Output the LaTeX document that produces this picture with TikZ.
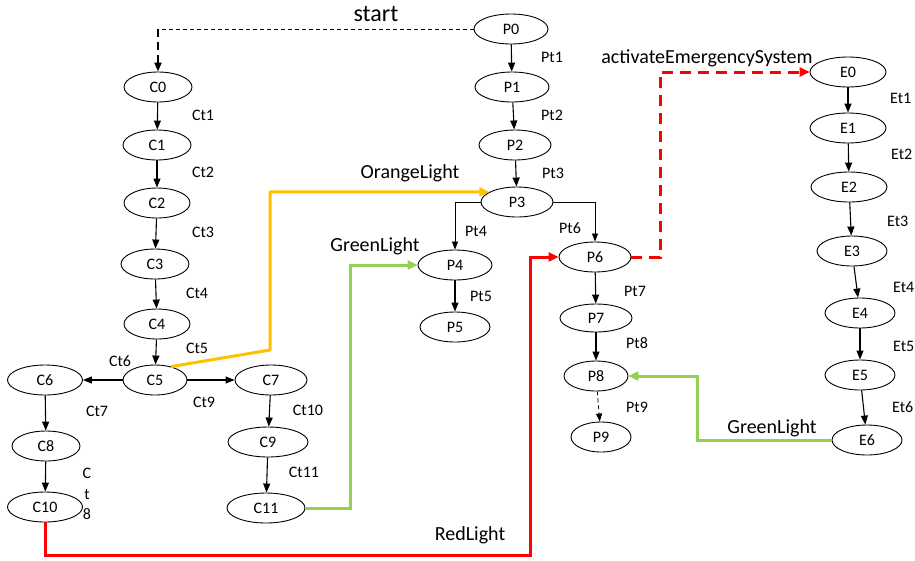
\documentclass[tikz,border=0pt]{standalone}
\usepackage{fontspec}
\setmainfont{Carlito}
\usetikzlibrary{shapes.geometric,arrows.meta}
\definecolor{gold}{HTML}{FFC000}
\definecolor{lime}{HTML}{92D050}
\definecolor{alarm}{HTML}{FF0000}
\begin{document}
\begin{tikzpicture}[x=1pt,y=-1pt,
  state/.style={ellipse,draw,line width=0.9pt,inner sep=0pt,minimum height=30pt,font=\fontsize{16}{18}\selectfont},
  tlabel/.style={font=\fontsize{16}{18}\selectfont,inner sep=0pt},
  blabel/.style={font=\fontsize{20}{22}\selectfont,inner sep=0pt},
  flow/.style={line width=1.1pt,-{Triangle[length=9pt,width=7pt]}},
  thinflow/.style={line width=0.8pt,-{Triangle[length=8pt,width=6pt]}},
  signal/.style={line width=3pt,-{Triangle[length=10pt,width=9pt]}}]
\useasboundingbox (0,0) rectangle (915,560);

% process P
\node[state,minimum width=74pt] (P0) at (511,29) {P0};
\node[state,minimum width=74pt] (P1) at (512,87) {P1};
\node[state,minimum width=72pt] (P2) at (515,145) {P2};
\node[state,minimum width=72pt] (P3) at (517,202) {P3};
\node[state,minimum width=74pt] (P4) at (455,265) {P4};
\node[state,minimum width=70pt] (P5) at (455,327) {P5};
\node[state,minimum width=72pt] (P6) at (595,257) {P6};
\node[state,minimum width=72pt,minimum height=28pt] (P7) at (596,318) {P7};
\node[state,minimum width=64pt] (P8) at (596,376) {P8};
\node[state,minimum width=60pt] (P9) at (601,437) {P9};

% controller C
\node[state,minimum width=68pt] (C0) at (158,87) {C0};
\node[state,minimum width=68pt] (C1) at (157,145) {C1};
\node[state,minimum width=66pt] (C2) at (157,203) {C2};
\node[state,minimum width=68pt] (C3) at (155,264) {C3};
\node[state,minimum width=66pt] (C4) at (157,324) {C4};
\node[state,minimum width=64pt] (C5) at (155,380) {C5};
\node[state,minimum width=75pt] (C6) at (45,380) {C6};
\node[state,minimum width=72pt] (C7) at (271,380) {C7};
\node[state,minimum width=68pt] (C8) at (46,446) {C8};
\node[state,minimum width=80pt] (C9) at (268,442) {C9};
\node[state,minimum width=75pt] (C10) at (45,507) {C10};
\node[state,minimum width=78pt] (C11) at (266,508) {C11};

% emergency E
\node[state,minimum width=76pt] (E0) at (848,72) {E0};
\node[state,minimum width=76pt] (E1) at (848,128) {E1};
\node[state,minimum width=76pt] (E2) at (849,187) {E2};
\node[state,minimum width=70pt] (E3) at (852,251) {E3};
\node[state,minimum width=70pt] (E4) at (860,313) {E4};
\node[state,minimum width=70pt] (E5) at (860,375) {E5};
\node[state,minimum width=70pt] (E6) at (867,440) {E6};

% transitions of P
\draw[flow] (P0) -- (P1);
\draw[flow] (P1) -- (P2);
\draw[flow] (P2) -- (P3);
\draw[thinflow] (P3.west) -| (P4.north);
\draw[thinflow] (P3.east) -| (P6.north);
\draw[flow] (P4) -- (P5);
\draw[flow] (P6) -- (P7);
\draw[flow] (P7) -- (P8);
\draw[thinflow,dash pattern=on 4pt off 3pt] (P8) -- (P9);

% transitions of C
\draw[flow] (C0) -- (C1);
\draw[flow] (C1) -- (C2);
\draw[flow] (C2) -- (C3);
\draw[flow] (C3) -- (C4);
\draw[flow] (C4) -- (C5);
\draw[flow] (C5) -- (C6);
\draw[flow] (C5) -- (C7);
\draw[flow] (C6) -- (C8);
\draw[flow] (C8) -- (C10);
\draw[flow] (C7) -- (C9);
\draw[flow] (C9) -- (C11);

% transitions of E
\draw[flow] (E0) -- (E1);
\draw[flow] (E1) -- (E2);
\draw[flow] (E2) -- (E3);
\draw[flow] (E3) -- (E4);
\draw[flow] (E4) -- (E5);
\draw[flow] (E5) -- (E6);

% start message
\coordinate (s1) at (C0.north |- P0.west);
\draw[line width=0.8pt,dash pattern=on 4pt off 3pt] (P0.west) -- (s1);
\draw[line width=2pt,dash pattern=on 8pt off 5pt,-{Triangle[length=9pt,width=7pt]}] (s1) -- (C0.north);

% signals
\coordinate (o1) at (270,350);
\draw[signal,gold,line join=round] (C5.40) -- (o1) |- (P3.160);
\coordinate (g1) at (350,508);
\draw[signal,lime] (C11.east) -- (g1) |- (P4.west);
\coordinate (r1) at (45,555);
\coordinate (r2) at (530,555);
\draw[signal,alarm] (C10.south) -- (r1) -- (r2) |- (P6.west);
\coordinate (d1) at (660,257);
\draw[signal,alarm,dash pattern=on 11pt off 7pt] (P6.east) -- (d1) |- (E0.west);
\coordinate (g2) at (697,440);
\draw[signal,lime] (E6.west) -- (g2) |- (P8.east);

% transition labels
\node[tlabel] (pt1) at (552,57) {Pt1};
\node[tlabel] (pt2) at (552,115) {Pt2};
\node[tlabel] (pt3) at (553,173) {Pt3};
\node[tlabel] (pt4) at (476,231) {Pt4};
\node[tlabel] (pt5) at (481,296) {Pt5};
\node[tlabel] (pt6) at (570,228) {Pt6};
\node[tlabel] (pt7) at (635,291) {Pt7};
\node[tlabel] (pt8) at (637,343) {Pt8};
\node[tlabel] (pt9) at (637,407) {Pt9};
\node[tlabel] (ct1) at (203,115) {Ct1};
\node[tlabel] (ct2) at (203,172) {Ct2};
\node[tlabel] (ct3) at (203,232) {Ct3};
\node[tlabel] (ct4) at (197,293) {Ct4};
\node[tlabel] (ct5) at (197,348) {Ct5};
\node[tlabel] (ct6) at (120,361) {Ct6};
\node[tlabel] (ct7) at (97,411) {Ct7};
\node[tlabel] (ct9) at (204,402) {Ct9};
\node[tlabel] (ct10) at (308,410) {Ct10};
\node[tlabel] (ct11) at (304,472) {Ct11};
\node[tlabel,align=center,font=\fontsize{16}{20.5}\selectfont] (ct8) at (87,494) {C\\t\\8};
\node[tlabel,anchor=west] (et1) at (890,98) {Et1};
\node[tlabel,anchor=west] (et2) at (891,154) {Et2};
\node[tlabel,anchor=west] (et3) at (887,221) {Et3};
\node[tlabel,anchor=west] (et4) at (893,287) {Et4};
\node[tlabel,anchor=west] (et5) at (893,346) {Et5};
\node[tlabel,anchor=west] (et6) at (892,407) {Et6};

% message labels
\node[blabel,font=\fontsize{24}{26}\selectfont] (lstart) at (376,14) {start};
\node[blabel] (lorange) at (410,173) {OrangeLight};
\node[blabel] (lgreen1) at (375,246) {GreenLight};
\node[blabel] (lgreen2) at (772,428) {GreenLight};
\node[blabel] (lred) at (470,535) {RedLight};
\node[blabel] (lemerg) at (707,58) {activateEmergencySystem};
\end{tikzpicture}
\end{document}
